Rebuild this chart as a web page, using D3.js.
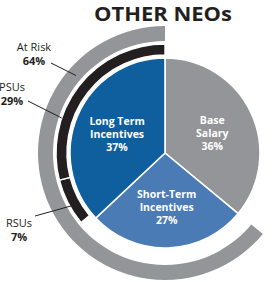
<!DOCTYPE html>
<html>
<head>
<meta charset="utf-8">
<script src="https://cdn.jsdelivr.net/npm/d3@7"></script>
<style>
  html, body { margin: 0; padding: 0; background: #fff; }
  svg { display: block; font-family: "Open Sans", "Noto Sans", sans-serif; }
</style>
</head>
<body>
<div id="chart"></div>
<script>
// pie: pay mix for other NEOs (percent)
const pieLabels = [["Base", "Salary"], ["Short-Term", "Incentives"], ["Long Term", "Incentives"]];
const pieValues = [36, 27, 37];
const pieColors = ["#939598", "#4a7bb5", "#0f5f9f"];

// inner black ring: equity vehicles, sitting at the end of the circle
const equityLabels = ["RSUs", "PSUs"];
const equityValues = [7, 29];

// outer gray ring
const riskLabel = "At Risk";
const riskValue = 64;

const W = 276, H = 282;
const cx = 165, cy = 153;
const rPie = 95;
const ink = "#231f20";

const svg = d3.select("#chart").append("svg")
    .attr("width", W).attr("height", H);

// title
svg.append("text")
    .attr("x", 163).attr("y", 20.5)
    .attr("text-anchor", "middle")
    .attr("textLength", 138).attr("lengthAdjust", "spacingAndGlyphs")
    .style("font-size", "19px").style("font-weight", "bold")
    .style("fill", ink)
    .text("OTHER NEOs");

const g = svg.append("g").attr("transform", `translate(${cx},${cy})`);

// percent -> angle
const ang = d3.scaleLinear().domain([0, 100]).range([0, 2 * Math.PI]);

// 1. pie
const pie = d3.pie().sort(null).value(d => d);
const pieArcs = pie(pieValues);
const arcPie = d3.arc().innerRadius(0).outerRadius(rPie);

g.selectAll("path.slice")
    .data(pieArcs).enter().append("path")
    .attr("class", "slice")
    .attr("d", arcPie)
    .attr("fill", (d, i) => pieColors[i])
    .attr("stroke", "#fff")
    .attr("stroke-width", 1.6);

// slice labels
const labelPos = d3.arc().innerRadius(rPie * 0.55).outerRadius(rPie * 0.55);
pieArcs.forEach((d, i) => {
    const [x, y] = labelPos.centroid(d);
    const lines = pieLabels[i].concat([pieValues[i] + "%"]);
    const t = g.append("text")
        .attr("text-anchor", "middle")
        .style("font-size", "10.5px").style("font-weight", "bold")
        .style("fill", "#fff");
    lines.forEach((s, j) => {
        t.append("tspan")
            .attr("x", x)
            .attr("y", y + (j - 1) * 13 + 6)
            .text(s);
    });
});

// 2. black equity ring (fills the last 36% of the circle)
const eqTotal = d3.sum(equityValues);
let acc = 100 - eqTotal;
const eqArcs = equityValues.map((v, i) => {
    const a = { startAngle: ang(acc), endAngle: ang(acc + v), label: equityLabels[i], value: v };
    acc += v;
    return a;
});
const arcEq = d3.arc().innerRadius(98).outerRadius(109);
g.selectAll("path.eq")
    .data(eqArcs).enter().append("path")
    .attr("class", "eq")
    .attr("d", arcEq)
    .attr("fill", ink)
    .attr("stroke", "#fff")
    .attr("stroke-width", 1.4);

// 3. gray at-risk ring
const riskArc = { startAngle: ang(100 - riskValue), endAngle: ang(100) };
g.append("path")
    .attr("d", d3.arc().innerRadius(112).outerRadius(127)(riskArc))
    .attr("fill", "#939598");

// 4. callouts
const polar = (a, r) => [r * Math.sin(a), -r * Math.cos(a)];
const callouts = [
    { name: riskLabel, value: riskValue, tx: 34, ty: 51, lx: 51, ly: 63, a: ang(86.4), r: 118 },
    { name: equityLabels[1], value: equityValues[1], tx: 12, ty: 91, lx: 28, ly: 101, a: ang(80.2), r: 109 },
    { name: equityLabels[0], value: equityValues[0], tx: 19, ty: 227, lx: 35, ly: 216, a: ang(66.8), r: 107 }
];
callouts.forEach(c => {
    const [ex, ey] = polar(c.a, c.r);
    svg.append("line")
        .attr("x1", c.lx).attr("y1", c.ly)
        .attr("x2", cx + ex).attr("y2", cy + ey)
        .attr("stroke", ink).attr("stroke-width", 1);
    const t = svg.append("text")
        .attr("text-anchor", "middle")
        .style("font-size", "11px").style("fill", ink);
    t.append("tspan").attr("x", c.tx).attr("y", c.ty).text(c.name);
    t.append("tspan").attr("x", c.tx).attr("y", c.ty + 14)
        .style("font-weight", "bold").text(c.value + "%");
});
</script>
</body>
</html>
